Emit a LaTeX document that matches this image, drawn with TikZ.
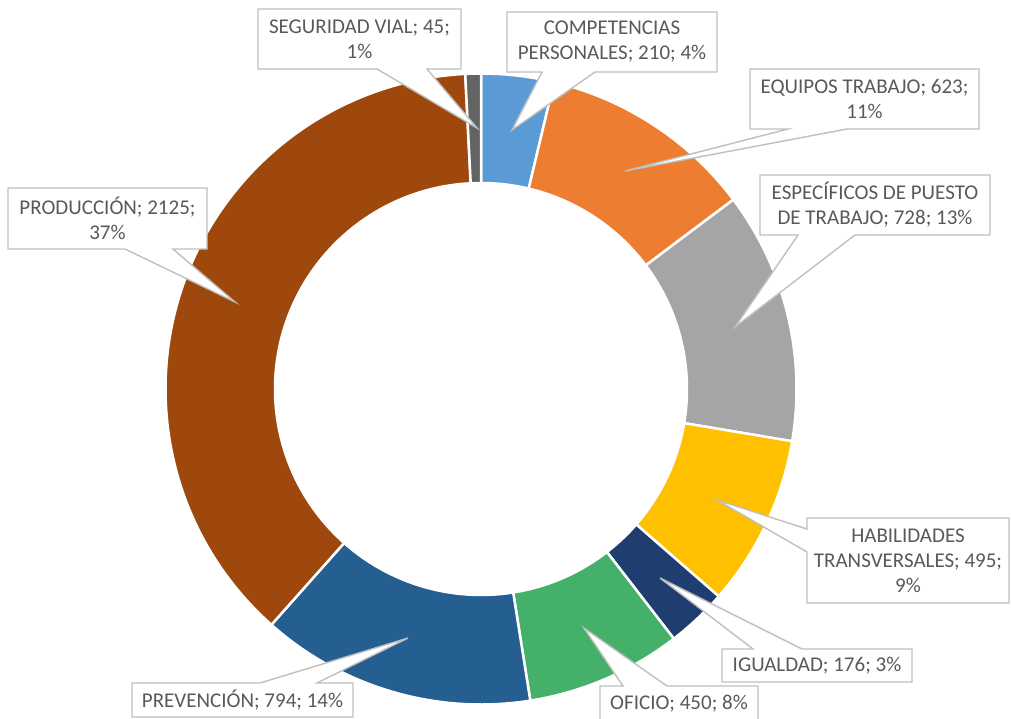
\documentclass[tikz,border=0pt]{standalone}
\usepackage{fontspec}
\setmainfont{Carlito}
\definecolor{cComp}{HTML}{5B9BD5}
\definecolor{cEquip}{HTML}{ED7D31}
\definecolor{cEspec}{HTML}{A5A5A5}
\definecolor{cHabil}{HTML}{FFC000}
\definecolor{cIgual}{HTML}{1F3E6F}
\definecolor{cOficio}{HTML}{45B06A}
\definecolor{cPrev}{HTML}{255E91}
\definecolor{cProd}{HTML}{9E480E}
\definecolor{cSegur}{HTML}{636363}
\definecolor{cBorder}{HTML}{BFBFBF}
\definecolor{cText}{HTML}{595959}
\newcommand{\ringseg}[3]{\filldraw[slice,fill=#3] (#1:315.5) arc[start angle=#1,end angle=#2,radius=315.5] -- (#2:206) arc[start angle=#2,end angle=#1,radius=206] -- cycle;}
\begin{document}
\begin{tikzpicture}[x=1pt,y=-1pt,
  callout/.style={fill=white,draw=cBorder,line width=1.4pt,line join=miter},
  lbl/.style={text=cText,font=\fontsize{21}{25}\selectfont,align=center,inner sep=0pt},
  slice/.style={draw=white,line width=2.5pt}]
\useasboundingbox (0,0) rectangle (1011,718);
% donut
\begin{scope}[shift={(481,389)},y=1pt]
\ringseg{90}{76.610}{cComp}
\ringseg{76.610}{36.886}{cEquip}
\ringseg{36.886}{-9.533}{cEspec}
\ringseg{-9.533}{-41.095}{cHabil}
\ringseg{-41.095}{-52.317}{cIgual}
\ringseg{-52.317}{-81.010}{cOficio}
\ringseg{-81.010}{-131.637}{cPrev}
\ringseg{-131.637}{-267.131}{cProd}
\ringseg{-267.131}{-270}{cSegur}
\end{scope}
% callout tips
\coordinate (tSeg) at (477,128);
\coordinate (tComp) at (512,130);
\coordinate (tEq) at (625,171);
\coordinate (tEsp) at (735,327);
\coordinate (tHab) at (717,500);
\coordinate (tIg) at (660,578);
\coordinate (tOf) at (584,628);
\coordinate (tPrev) at (408,638);
\coordinate (tProd) at (235,302);
% callouts
\path[callout] (258,9) -- (461,9) -- (461,69) -- (427,69) -- (tSeg) -- (377,69) -- (258,69) -- cycle;
\node[lbl] (lSeg) at (359.5,39) {SEGURIDAD VIAL; 45;\\1\%};
\path[callout] (507,12) -- (717,12) -- (717,72) -- (595,72) -- (tComp) -- (542,72) -- (507,72) -- cycle;
\node[lbl] (lComp) at (612,42) {COMPETENCIAS\\PERSONALES; 210; 4\%};
\path[callout] (750,69) -- (979,69) -- (979,129) -- (847,129) -- (tEq) -- (788,129) -- (750,129) -- cycle;
\node[lbl] (lEq) at (864.5,99) {EQUIPOS TRABAJO; 623;\\11\%};
\path[callout] (760,175) -- (990,175) -- (990,235) -- (855,235) -- (tEsp) -- (798,235) -- (760,235) -- cycle;
\node[lbl] (lEsp) at (875,205) {ESPECÍFICOS DE PUESTO\\DE TRABAJO; 728; 13\%};
\path[callout] (807,518) -- (1009,518) -- (1009,603) -- (807,603) -- (807,552) -- (tHab) -- (807,529) -- cycle;
\node[lbl] (lHab) at (908,560.5) {HABILIDADES\\TRANSVERSALES; 495;\\9\%};
\path[callout] (722,649) -- (753,649) -- (tIg) -- (802,649) -- (912,649) -- (912,682) -- (722,682) -- cycle;
\node[lbl] (lIg) at (817,665.5) {IGUALDAD; 176; 3\%};
\path[callout] (600,686) -- (623,686) -- (tOf) -- (667,686) -- (758,686) -- (758,722) -- (600,722) -- cycle;
\node[lbl] (lOf) at (679,704) {OFICIO; 450; 8\%};
\path[callout] (132,683) -- (260,683) -- (tPrev) -- (317,683) -- (353,683) -- (353,717) -- (132,717) -- cycle;
\node[lbl] (lPrev) at (242.5,700) {PREVENCIÓN; 794; 14\%};
\path[callout] (8,188) -- (207,188) -- (207,249) -- (173,249) -- (tProd) -- (125,249) -- (8,249) -- cycle;
\node[lbl] (lProd) at (107.5,218.5) {PRODUCCIÓN; 2125;\\37\%};
\end{tikzpicture}
\end{document}
